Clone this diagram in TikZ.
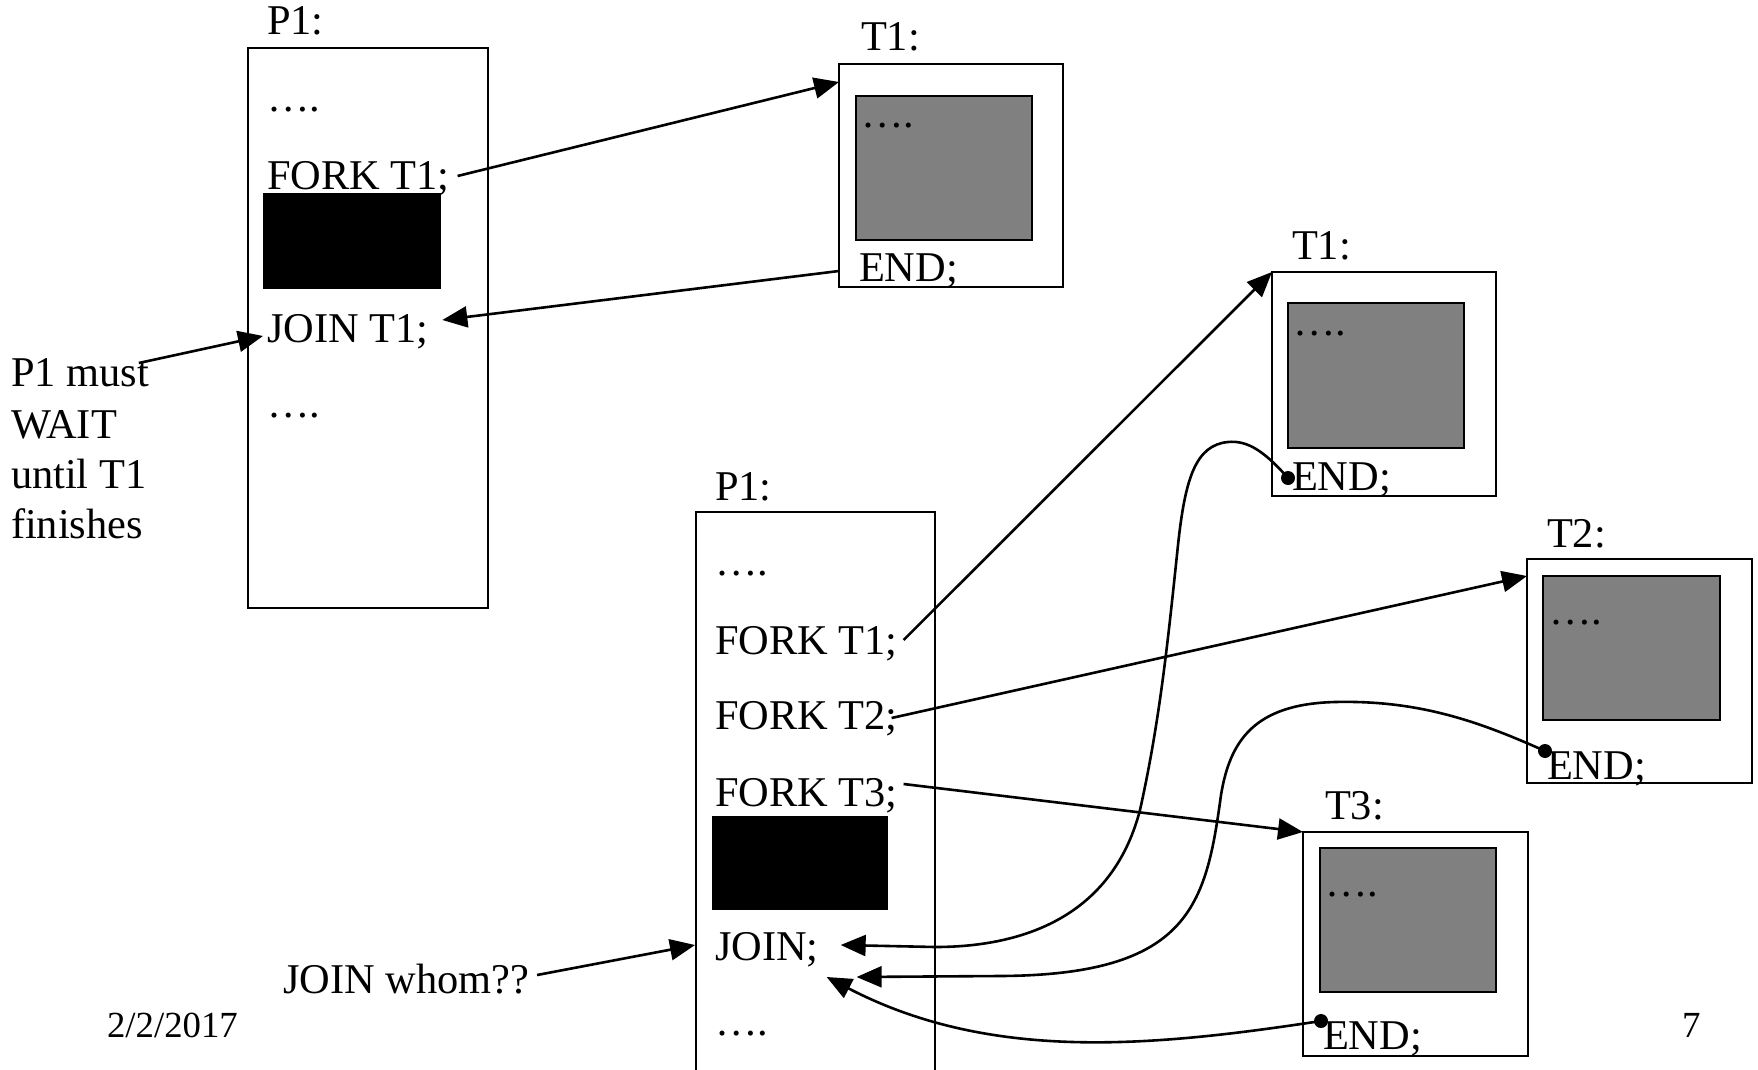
\documentclass[tikz,border=0pt]{standalone}
\usepackage{fontspec}
\setmainfont{Liberation Serif}
\usetikzlibrary{arrows.meta}
\begin{document}
\begin{tikzpicture}[x=1pt,y=-1pt,
  txt/.style={anchor=base west,inner sep=0pt,outer sep=0pt,font=\fontsize{42.4}{50}\selectfont},
  small/.style={anchor=base west,inner sep=0pt,outer sep=0pt,font=\fontsize{36.8}{44}\selectfont},
  frame/.style={draw,line width=2.5pt,inner sep=0pt,outer sep=0pt,fill=white},
  code/.style={draw,line width=2.5pt,fill=black!50,inner sep=0pt,outer sep=0pt},
  blk/.style={fill=black,inner sep=0pt,outer sep=0pt},
  arr/.style={line width=2.6pt,-{Triangle[length=25pt,width=21pt]}}]
\fill[white] (0,0) rectangle (1758,1070);
\useasboundingbox (0,0) rectangle (1758,1070);

% boxes
\node[frame,minimum width=240pt,minimum height=560pt] (P1a) at (368,328) {};
\node[frame,minimum width=224pt,minimum height=223pt] (T1a) at (951,175.5) {};
\node[code,minimum width=176pt,minimum height=144pt] (gA) at (944,168) {};
\node[frame,minimum width=224pt,minimum height=224pt] (T1b) at (1384,384) {};
\node[code,minimum width=176pt,minimum height=145pt] (gB) at (1376,375.5) {};
\node[frame,minimum width=225pt,minimum height=224pt] (T2) at (1639.5,671) {};
\node[code,minimum width=177pt,minimum height=144pt] (gC) at (1631.5,648) {};
\node[frame,minimum width=225pt,minimum height=224pt] (T3) at (1415.5,944) {};
\node[code,minimum width=176pt,minimum height=144pt] (gD) at (1408,920) {};
\node[frame,minimum width=239pt,minimum height=600pt] (P1b) at (815.5,812) {};

% top P1
\node[txt] (lP1a) at (267,35) {P1:};
\node[txt] (dA1) at (267,112) {….};
\node[txt] (forkA) at (267,189) {FORK T1;};
\node[txt] (joinA) at (267,342) {JOIN T1;};
\node[txt] (dA2) at (267,417) {….};
\node[blk,minimum width=178pt,minimum height=96pt] (blkA) at (352,241) {};

% left note
\node[txt] (wait1) at (11,386) {P1 must};
\node[txt] (wait2) at (11,438) {WAIT};
\node[txt] (wait3) at (11,488) {until T1};
\node[txt] (wait4) at (11,538) {finishes};

% thread boxes
\node[txt] (lT1a) at (861,51) {T1:};
\node[txt] (dTA) at (861,128) {….};
\node[txt] (endA) at (859,281) {END;};

\node[txt] (lT1b) at (1292,259) {T1:};
\node[txt] (dTB) at (1293,335) {….};
\node[txt] (endB) at (1292,490) {END;};

\node[txt] (lT2) at (1547,547) {T2:};
\node[txt] (dTC) at (1549,624) {….};
\node[txt] (endC) at (1547,779) {END;};

\node[txt] (lT3) at (1325,819) {T3:};
\node[txt] (dTD) at (1325,896) {….};
\node[txt] (endD) at (1323,1049) {END;};

% bottom P1
\node[txt] (lP1b) at (715,500) {P1:};
\node[txt] (dB1) at (715,575) {….};
\node[txt] (forkB1) at (715,654) {FORK T1;};
\node[txt] (forkB2) at (715,729) {FORK T2;};
\node[txt] (forkB3) at (715,806) {FORK T3;};
\node[blk,minimum width=176pt,minimum height=94pt] (blkB) at (800,863) {};
\node[txt] (joinB) at (715,960) {JOIN;};
\node[txt] (dB2) at (715,1035) {….};

\node[txt] (whom) at (283,993) {JOIN whom??};
\node[small] (date) at (107,1037) {2/2/2017};
\node[small] (page) at (1682,1037) {7};

% straight arrows
\draw[arr] ([shift={(8,-13)}]forkA.base east) -- ([shift={(0,18)}]T1a.north west);
\draw[arr] ([shift={(0,-16)}]T1a.south west) -- ([shift={(14,-22)}]joinA.base east);
\draw[arr] ([shift={(-10,-23)}]wait1.base east) -- ([shift={(-4,-6)}]joinA.base west);
\draw[arr] ([shift={(6,-14)}]forkB1.base east) -- (T1b.north west);
\draw[arr] ([shift={(-6,-11)}]forkB2.base east) -- ([shift={(0,17)}]T2.north west);
\draw[arr] ([shift={(6,-22)}]forkB3.base east) -- (T3.north west);
\draw[arr] ([shift={(8,-18)}]whom.base east) -- ([shift={(-20,-15)}]joinB.base west);

% join curves
\coordinate (dotB) at ([shift={(-4,-12)}]endB.base west);
\coordinate (dotC) at ([shift={(-2,-28)}]endC.base west);
\coordinate (dotD) at ([shift={(-2,-28)}]endD.base west);
\fill (dotB) circle (7pt);
\fill (dotC) circle (7pt);
\fill (dotD) circle (7pt);
\draw[arr] (dotB) .. controls (1265,452) and (1248,440) .. (1228,442)
  .. controls (1195,445) and (1185,480) .. (1178,545)
  .. controls (1168,640) and (1160,720) .. (1140,810)
  .. controls (1110,925) and (1010,947) .. (935,947)
  -- ([shift={(22,-15)}]joinB.base east);
\draw[arr] (dotC) .. controls (1480,722) and (1420,700) .. (1335,702)
  .. controls (1255,704) and (1230,740) .. (1221,795)
  .. controls (1206,905) and (1190,975) .. (1000,976)
  -- ([shift={(38,17)}]joinB.base east);
\draw[arr] (dotD) .. controls (1150,1047) and (990,1062) .. ([shift={(8,17)}]joinB.base east);
\end{tikzpicture}
\end{document}
